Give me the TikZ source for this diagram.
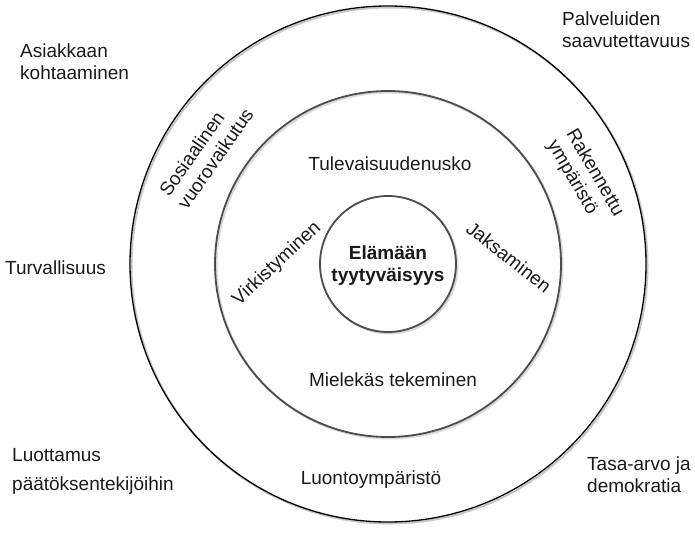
\documentclass[tikz,border=0pt]{standalone}
\usepackage{fontspec}
\setmainfont{Liberation Sans}
\begin{document}
\begin{tikzpicture}[x=1pt,y=-1pt,
  lbl/.style={font=\fontsize{19}{22}\selectfont, inner sep=0pt, text=black!90},
  ringshadow/.style={circle, draw=black!22, line width=2pt, inner sep=0pt},
  outerring/.style={circle, draw=black, line width=1.3pt, inner sep=0pt},
  grayring/.style={circle, draw=black!70, line width=1.8pt, inner sep=0pt}]
\useasboundingbox (0,0) rectangle (695,532);
% shadows
\node[ringshadow, minimum size=516pt] (outersh) at (389.5,265.5) {};
\node[ringshadow, minimum size=346pt, draw=black!15] (middlesh) at (389.5,265.5) {};
\node[ringshadow, minimum size=136pt, draw=black!15] (innersh) at (389.5,265.5) {};
% rings
\node[outerring, minimum size=516pt] (outer) at (388,264) {};
\node[grayring, minimum size=346pt] (middle) at (388,264) {};
\node[grayring, fill=white, minimum size=136pt] (inner) at (388,264) {};
% centre
\node[lbl, font=\fontsize{19}{22}\selectfont\bfseries, align=center] (core) at (388,266) {Elämään\\tyytyväisyys};
% middle ring texts
\node[lbl, anchor=base] (tul) at (390,170) {Tulevaisuudenusko};
\node[lbl, anchor=base] (mie) at (393,386) {Mielekäs tekeminen};
\node[lbl, rotate=43] (vir) at (277,264) {Virkistyminen};
\node[lbl, rotate=-38] (jak) at (509,257) {Jaksaminen};
% outer ring texts
\node[lbl, anchor=base west, rotate=55] (sos1) at (169,198) {Sosiaalinen};
\node[lbl, anchor=base west, rotate=55] (sos2) at (187,210.6) {vuorovaikutus};
\node[lbl, anchor=base west, rotate=-60] (rak1) at (566,133) {Rakennettu};
\node[lbl, anchor=base west, rotate=-60] (rak2) at (547,144) {ympäristö};
\node[lbl, anchor=base] (luo) at (371,484) {Luontoympäristö};
% corner texts
\node[lbl, anchor=base west] (asi1) at (20,58) {Asiakkaan};
\node[lbl, anchor=base west] (asi2) at (20,80) {kohtaaminen};
\node[lbl, anchor=base west] (pal1) at (562,26) {Palveluiden};
\node[lbl, anchor=base west] (pal2) at (562,48) {saavutettavuus};
\node[lbl, anchor=base west] (tur) at (5,274) {Turvallisuus};
\node[lbl, anchor=base west] (luot1) at (12,461) {Luottamus};
\node[lbl, anchor=base west] (luot2) at (12,490) {päätöksentekijöihin};
\node[lbl, anchor=base west] (tas1) at (587,470) {Tasa-arvo ja};
\node[lbl, anchor=base west] (tas2) at (587,492) {demokratia};
\end{tikzpicture}
\end{document}
